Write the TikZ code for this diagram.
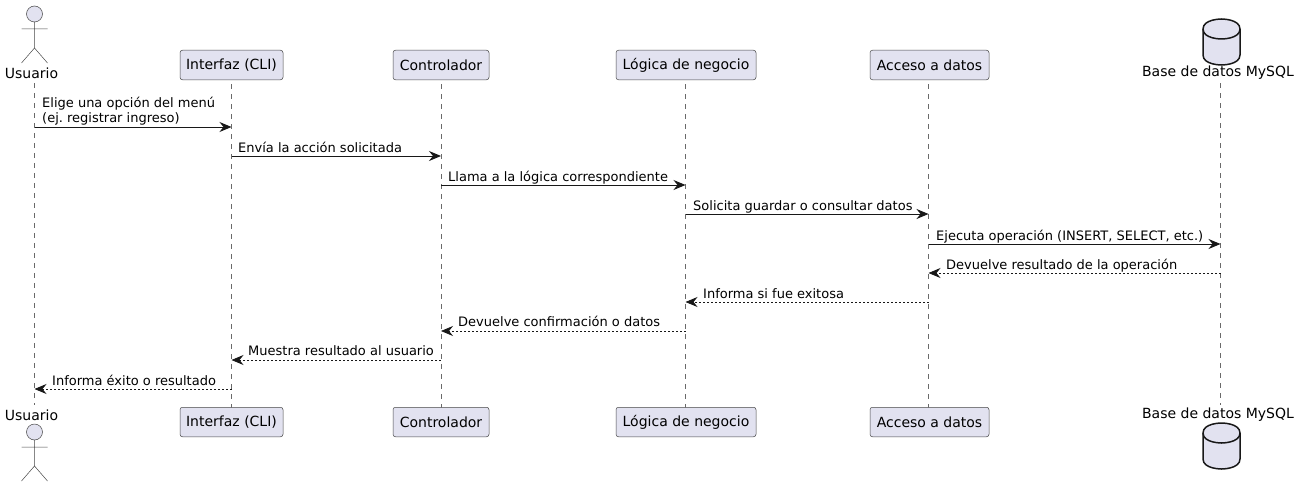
\documentclass[tikz,border=0pt]{standalone}
\usepackage{fontspec}
\setmainfont{DejaVu Sans}
\usepackage{xcolor}
\usetikzlibrary{arrows.meta,positioning,calc}
\definecolor{PartFill}{HTML}{E2E2F0}
\definecolor{PartLine}{HTML}{181818}
\tikzset{
  partbox/.style={draw=PartLine!80,fill=PartFill,line width=0.5pt,rounded corners=2.5pt,minimum height=29.5pt,inner xsep=0pt,inner ysep=0pt,font=\fontsize{14}{16}\selectfont\frenchspacing,text=black},
  partlabel/.style={inner sep=0pt,font=\fontsize{14}{16}\selectfont,text=black},
  lifeline/.style={draw=PartLine!65,line width=0.5pt,dash pattern=on 5pt off 5pt},
  msgcall/.style={-{Stealth[length=12pt,width=10pt,inset=4pt]},PartLine,line width=1pt},
  msgback/.style={-{Stealth[length=12pt,width=10pt,inset=4pt]},PartLine,line width=0.8pt,dash pattern=on 2pt off 2pt},
  msglabel/.style={anchor=base west,inner sep=0pt,font=\fontsize{13}{15}\selectfont\frenchspacing,text=black},
  actorline/.style={draw=PartLine!80,line width=0.5pt},
  dbline/.style={draw=PartLine,line width=1.5pt}
}
\newcommand{\actorfig}[1]{%
  \draw[actorline,fill=PartFill] (34.5,#1) circle (8);
  \draw[actorline] (34.5,#1+8) -- (34.5,#1+34) (21.5,#1+15) -- (47.5,#1+15)
    (21.5,#1+49) -- (34.5,#1+34) -- (47.5,#1+49);
}
\newcommand{\dbfig}[1]{%
  \draw[dbline,fill=PartFill] (1203,#1+10) .. controls (1203,#1) and (1221.5,#1) .. (1221.5,#1)
    .. controls (1221.5,#1) and (1240,#1) .. (1240,#1+10) -- (1240,#1+36)
    .. controls (1240,#1+46) and (1221.5,#1+46) .. (1221.5,#1+46)
    .. controls (1221.5,#1+46) and (1203,#1+46) .. (1203,#1+36) -- cycle;
  \draw[dbline] (1203,#1+10) .. controls (1203,#1+20) and (1221.5,#1+20) .. (1221.5,#1+20)
    .. controls (1221.5,#1+20) and (1240,#1+20) .. (1240,#1+10);
}

\begin{document}
\begin{tikzpicture}[x=1pt,y=-1pt]
  \useasboundingbox (0,0) rectangle (1300,487);
  % lifelines first, boxes go over them
  \coordinate (usrT) at (34.5,83);
  \coordinate (usrB) at (34.5,405);
  \coordinate (cliT) at (231.5,64);
  \coordinate (cliB) at (231.5,422);
  \coordinate (ctlT) at (441,64);
  \coordinate (ctlB) at (441,422);
  \coordinate (logT) at (685.5,64);
  \coordinate (logB) at (685.5,422);
  \coordinate (accT) at (928.5,64);
  \coordinate (accB) at (928.5,422);
  \coordinate (dbT) at (1220.5,83);
  \coordinate (dbB) at (1220.5,405);
  \foreach \who in {usr,cli,ctl,log,acc,db}
    \draw[lifeline] (\who T) -- (\who B);

  \actorfig{14}
  \actorfig{432}
  \dbfig{19}
  \dbfig{423}
  \node[partlabel] (usrTop) at (31.5,73) {Usuario};
  \node[partlabel] (usrBot) at (31.5,415) {Usuario};
  \node[partlabel] (dbTop) at (1218,73) {Base de datos MySQL};
  \node[partlabel] (dbBot) at (1218,415) {Base de datos MySQL};

  \foreach \who/\cx/\boxw/\txt in {cli/231.5/103/Interfaz (CLI),ctl/441/96/Controlador,log/686/140/Lógica de negocio,acc/929.5/119/Acceso a datos} {
    \node[partbox,minimum width=\boxw pt] (\who Top) at (\cx,65) {\txt};
    \node[partbox,minimum width=\boxw pt] (\who Bot) at (\cx,422) {\txt};
  }

  % messages
  \draw[msgcall] (usrT |- 0,127) -- (cliT |- 0,127);
  \draw[msgcall] (cliT |- 0,156) -- (ctlT |- 0,156);
  \draw[msgcall] (ctlT |- 0,185) -- (logT |- 0,185);
  \draw[msgcall] (logT |- 0,214) -- (accT |- 0,214);
  \draw[msgcall] (accT |- 0,244) -- (dbT |- 0,244);
  \draw[msgback] (dbT |- 0,273) -- (accT |- 0,273);
  \draw[msgback] (accT |- 0,302) -- (logT |- 0,302);
  \draw[msgback] (logT |- 0,331) -- (ctlT |- 0,331);
  \draw[msgback] (ctlT |- 0,360) -- (cliT |- 0,360);
  \draw[msgback] (cliT |- 0,389) -- (usrT |- 0,389);

  \node[msglabel] (m1a) at (42,107.5) {Elige una opción del menú};
  \node[msglabel] (m1b) at (42,122.5) {(ej. registrar ingreso)};
  \node[msglabel] (m2) at (238,152) {Envía la acción solicitada};
  \node[msglabel] (m3) at (448,181) {Llama a la lógica correspondiente};
  \node[msglabel] (m4) at (693,210) {Solicita guardar o consultar datos};
  \node[msglabel] (m5) at (936,240) {Ejecuta operación (INSERT, SELECT, etc.)};
  \node[msglabel] (m6) at (946,269) {Devuelve resultado de la operación};
  \node[msglabel] (m7) at (703,298) {Informa si fue exitosa};
  \node[msglabel] (m8) at (458,326.5) {Devuelve confirmación o datos};
  \node[msglabel] (m9) at (248,355.5) {Muestra resultado al usuario};
  \node[msglabel] (m10) at (52,385) {Informa éxito o resultado};
\end{tikzpicture}
\end{document}
